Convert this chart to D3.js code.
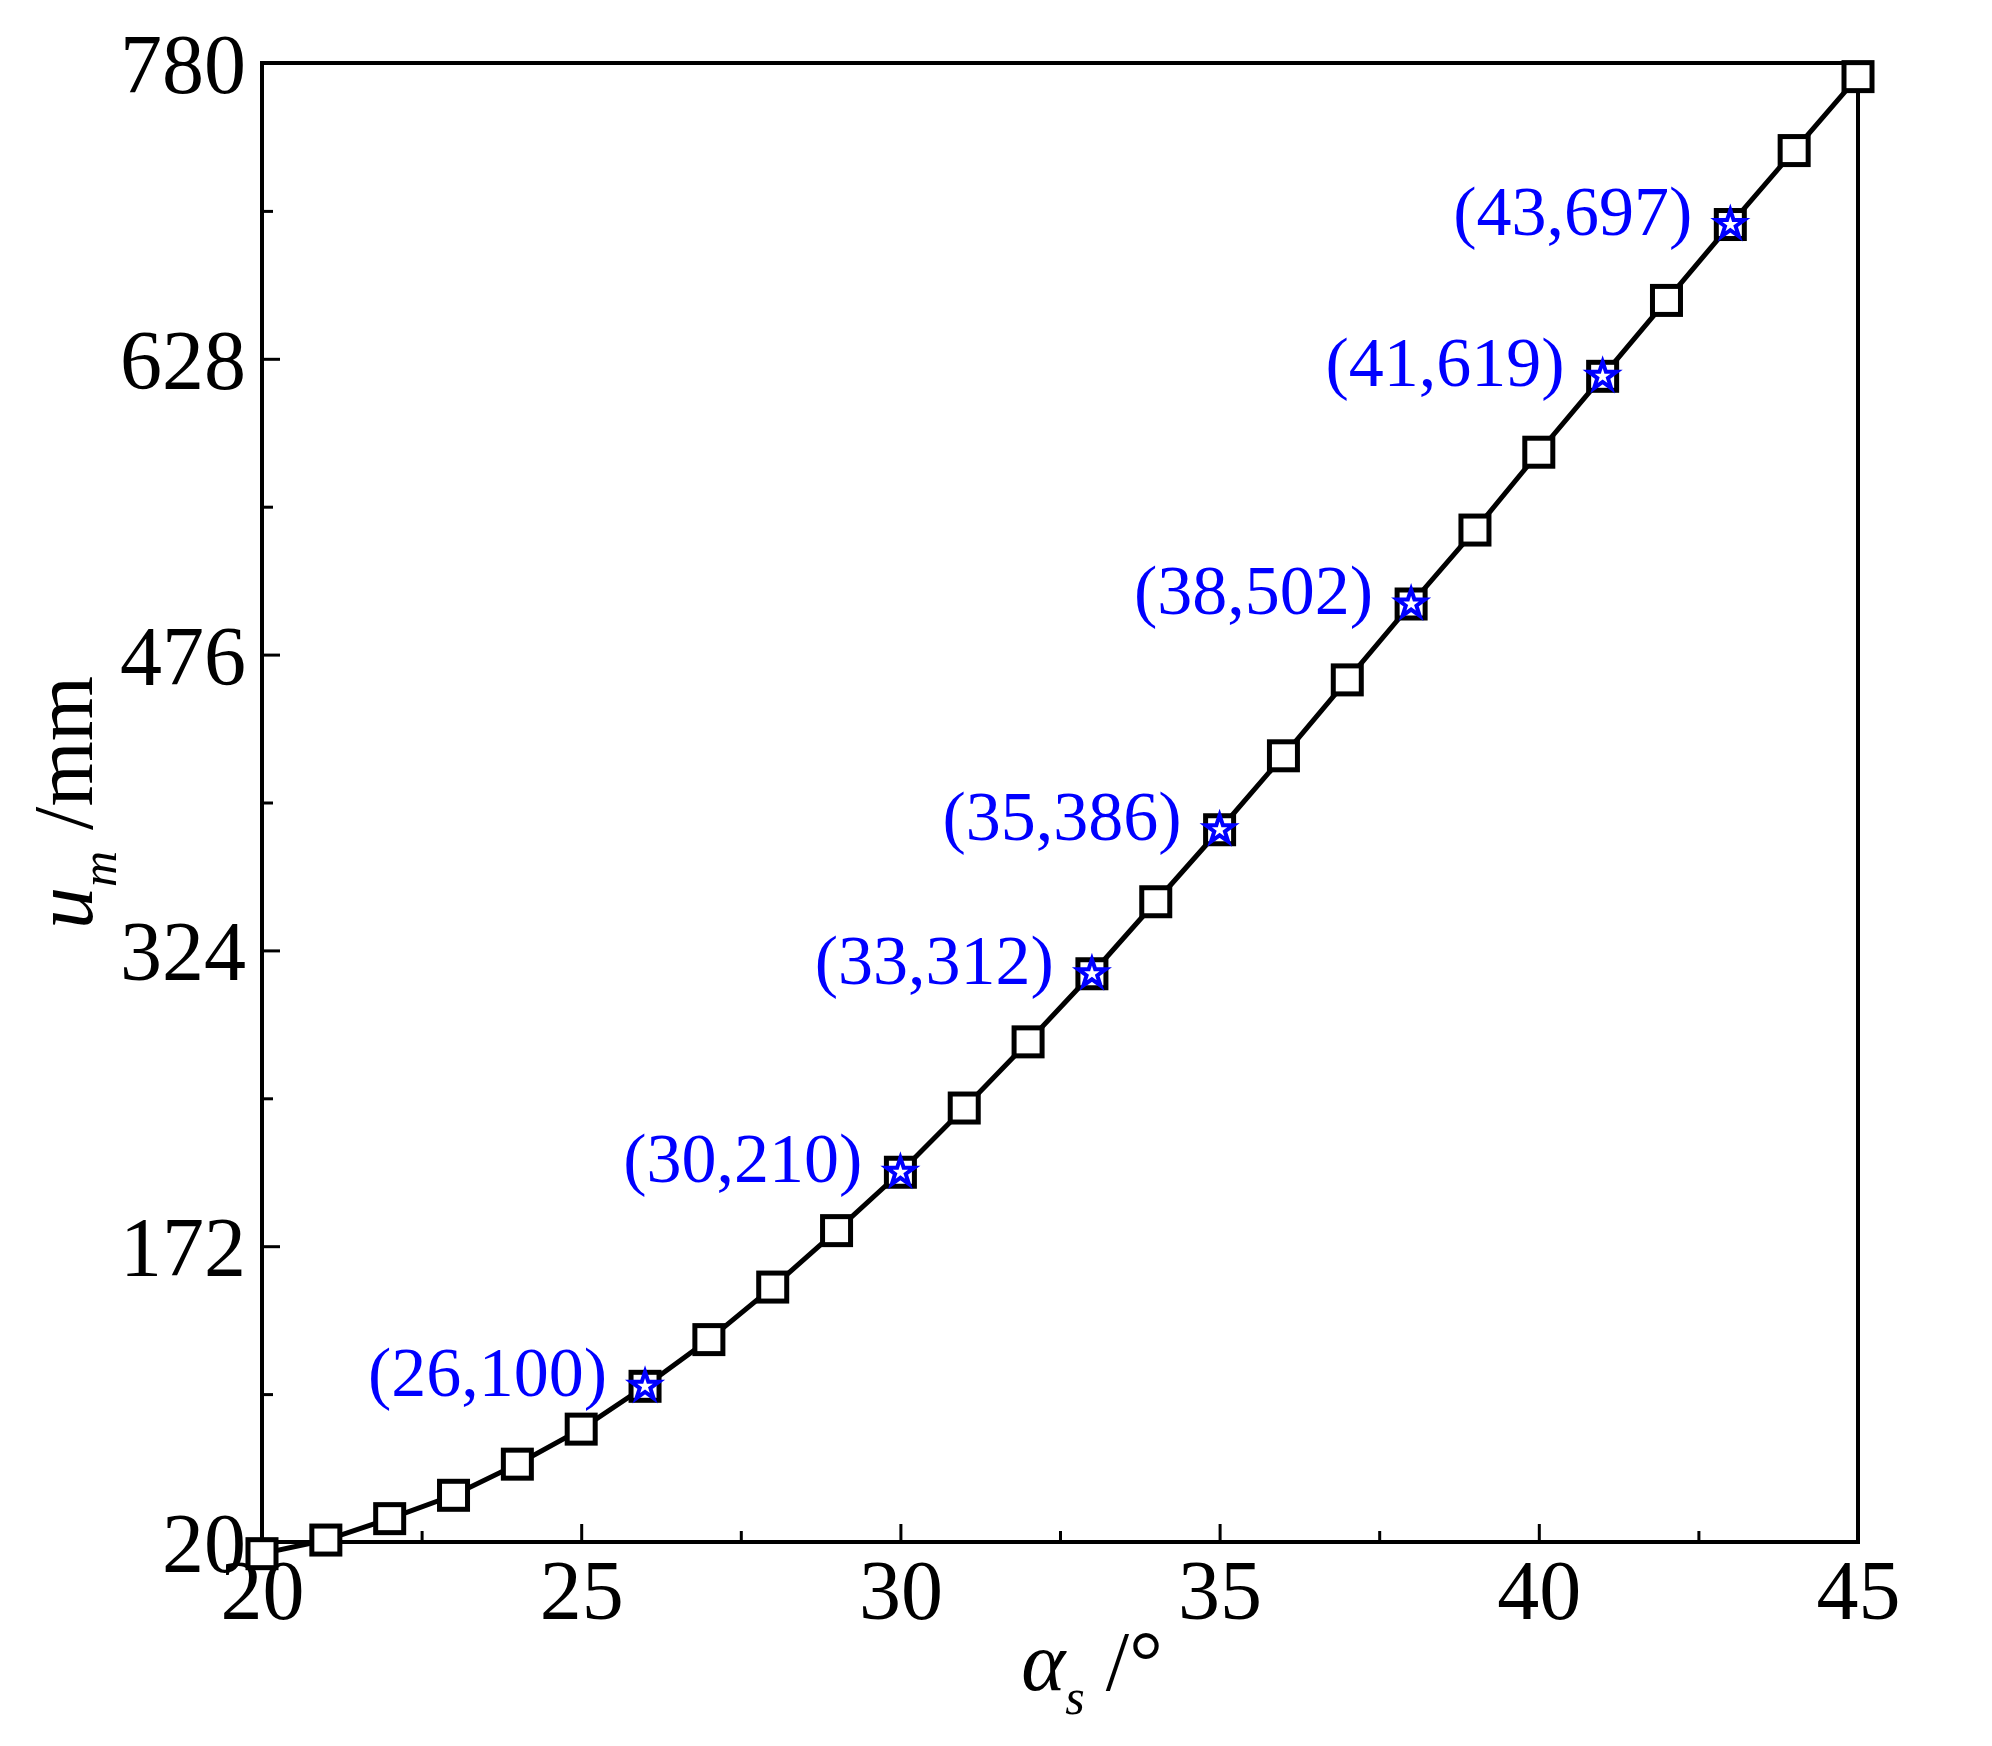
<!DOCTYPE html><html><head><meta charset="utf-8"><script src="https://cdn.jsdelivr.net/npm/d3@7"></script>
<style>body{margin:0;background:#fff}</style></head><body><svg id="c" width="1992" height="1746"></svg><script>
const xs=[20,21,22,23,24,25,26,27,28,29,30,31,32,33,34,35,36,37,38,39,40,41,42,43,44,45];
const ys=[14,21,32,44,60,78,100,124,151,180,210,243,277,312,349,386,424,463,502,540,580,619,658,697,735,773];
const hx=[26,30,33,35,38,41,43];
const hy=[100,210,312,386,502,619,697];
const yTicks=[20,172,324,476,628,780];
const xTicks=[20,25,30,35,40,45];
const F="'Liberation Serif','DejaVu Serif',serif";
const L=262,R=1858,T=63,B=1542;
const svg=d3.select("#c");
const x=d3.scaleLinear().domain([20,45]).range([L,R]);
const y=d3.scaleLinear().domain([20,780]).range([B,T]);
svg.append("rect").attr("x",L).attr("y",T).attr("width",R-L).attr("height",B-T).attr("fill","none").attr("stroke","#000").attr("stroke-width",4);
const xa=svg.append("g").attr("transform",`translate(0,${B})`).call(d3.axisBottom(x).tickValues(d3.range(20,45.1,2.5)).tickSize(-18).tickFormat(d=>xTicks.includes(d)?d:""));
xa.selectAll(".tick line").attr("y2",d=>xTicks.includes(d)?-18:-11).attr("stroke-width",3);
const ya=svg.append("g").attr("transform",`translate(${L},0)`).call(d3.axisLeft(y).tickValues(d3.range(20,781,76)).tickFormat(d=>yTicks.includes(d)?d:""));
ya.selectAll(".tick line").attr("x2",d=>yTicks.includes(d)?18:11).attr("stroke-width",3);
svg.selectAll(".domain").remove();
svg.selectAll(".tick text").attr("font-family",F).attr("font-size",84).attr("fill","#000");
xa.selectAll(".tick text").attr("dy","0.85em").attr("y",6);
ya.selectAll(".tick text").attr("x",-16).attr("dy","0.35em");
const line=d3.line().x((d,i)=>x(xs[i])).y(d=>y(d));
svg.append("path").attr("d",line(ys)).attr("fill","none").attr("stroke","#000").attr("stroke-width",5);
svg.selectAll("rect.m").data(ys).join("rect").attr("class","m").attr("x",(d,i)=>x(xs[i])-14).attr("y",d=>y(d)-14).attr("width",28).attr("height",28).attr("fill","#fff").attr("stroke","#000").attr("stroke-width",5);
const star=d3.symbol().type(d3.symbolStar).size(240);
svg.selectAll("path.s").data(hy).join("path").attr("class","s").attr("d",star).attr("transform",(d,i)=>`translate(${x(hx[i])},${y(d)})`).attr("fill","#fff").attr("stroke","#00f").attr("stroke-width",4);
svg.selectAll("text.h").data(hy).join("text").attr("class","h").attr("x",(d,i)=>x(hx[i])-38).attr("y",d=>y(d)+10).attr("text-anchor","end").attr("font-family",F).attr("font-size",70).attr("fill","#00f").text((d,i)=>`(${hx[i]},${d})`);
const xl=svg.append("text").attr("x",1092).attr("y",1690).attr("text-anchor","middle").attr("font-family",F).attr("font-size",84);
xl.append("tspan").attr("font-style","italic").text("α");
xl.append("tspan").attr("font-style","italic").attr("font-size",50).attr("dy",24).text("s");
xl.append("tspan").attr("dy",-24).text(" /°");
const yl=svg.append("text").attr("transform",`translate(92,${(T+B)/2}) rotate(-90)`).attr("text-anchor","middle").attr("font-family",F).attr("font-size",84);
yl.append("tspan").attr("font-style","italic").text("u");
yl.append("tspan").attr("font-style","italic").attr("font-size",50).attr("dy",24).text("m");
yl.append("tspan").attr("dy",-24).text(" /mm");
</script></body></html>
